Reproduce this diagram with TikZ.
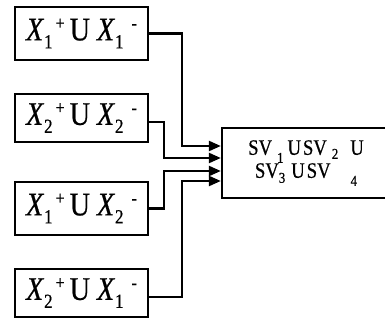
\documentclass[tikz,border=0pt]{standalone}
\usepackage{fontspec}
\setmainfont[FakeStretch=0.85,FakeBold=0.6]{Liberation Serif}
\usetikzlibrary{arrows.meta}
\newcommand\sbx[1]{\raisebox{-8pt}{\fontsize{20}{20}\selectfont #1}}
\newcommand\spx[1]{\raisebox{11pt}{\fontsize{19}{19}\selectfont #1}}
\newcommand\xl[4]{\textit{X}\sbx{#1}\hspace{3pt}\spx{#2}\hspace{5pt}U\hspace{7pt}\textit{X}\sbx{#3}\hspace{8pt}\spx{#4}}
\newcommand\ssb[2]{\raisebox{#1}{\fontsize{15}{15}\selectfont #2}}
\tikzset{
  lw/.style={line width=2.3pt},
  inbox/.style={lw, draw, minimum width=133pt, inner sep=0pt, font=\fontsize{33}{33}\selectfont},
  bigbox/.style={lw, draw, minimum width=168pt, minimum height=70pt, inner sep=0pt, align=center, font=\fontsize{22}{23}\selectfont},
  arr/.style={lw, -{Triangle[length=12pt,width=10pt]}},
}
\begin{document}
\begin{tikzpicture}[x=1pt,y=-1pt]
\useasboundingbox (0,0) rectangle (385,323);
\clip (0,0) rectangle (385,323);
\node[inbox, minimum height=53pt] (b1) at (81.5,33.5) {\xl{1}{+}{1}{-}};
\node[inbox, minimum height=48pt] (b2) at (81.5,118) {\xl{2}{+}{2}{-}};
\node[inbox, minimum height=53pt] (b3) at (81.5,208.5) {\xl{1}{+}{2}{-}};
\node[inbox, minimum height=48pt] (b4) at (81.5,293) {\xl{2}{+}{1}{-}};
\node[bigbox] (sv) at (306,163) {SV\hspace{5pt}\ssb{-8pt}{1}\hspace{4pt}U\hspace{2pt}SV\hspace{5pt}\ssb{-4pt}{2}\hspace{12pt}U\\
SV\ssb{-5pt}{3}\hspace{6pt}U\hspace{2pt}SV\hspace{20pt}\ssb{-8pt}{4}};
\coordinate (in1) at ([yshift=17pt]sv.west);
\coordinate (in2) at ([yshift=5pt]sv.west);
\coordinate (in3) at ([yshift=-8pt]sv.west);
\coordinate (in4) at ([yshift=-18pt]sv.west);
\draw[arr] (b1.east) -| ([xshift=-39pt]in1) -- (in1);
\draw[arr] ([yshift=-4pt]b2.east) -| ([xshift=-57pt]in2) -- (in2);
\draw[arr] (b3.east) -| ([xshift=-57pt]in3) -- (in3);
\draw[arr] ([yshift=-4pt]b4.east) -| ([xshift=-39pt]in4) -- (in4);
\end{tikzpicture}
\end{document}
